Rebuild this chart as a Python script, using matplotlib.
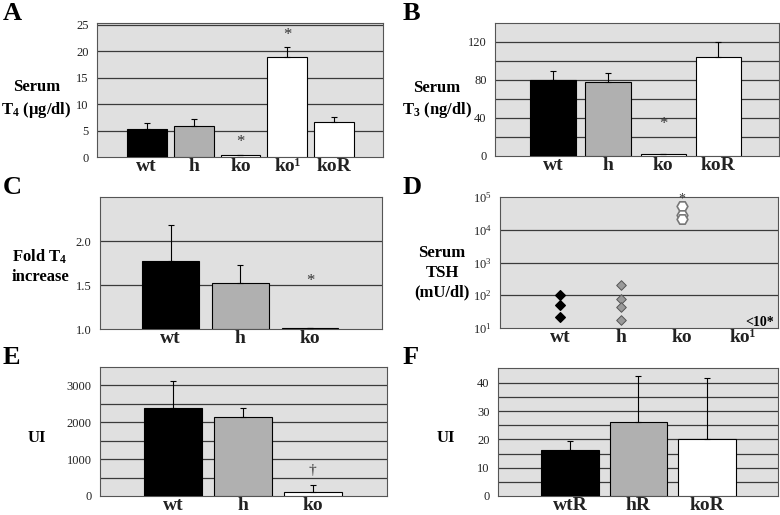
import matplotlib
matplotlib.use('Agg')
import matplotlib.pyplot as plt
import numpy as np

plt.rcParams['font.family'] = ['Liberation Serif', 'DejaVu Serif']
plt.rcParams['mathtext.fontset'] = 'custom'
plt.rcParams['mathtext.rm'] = 'Liberation Serif'
plt.rcParams['mathtext.bf'] = 'Liberation Serif:bold'
plt.rcParams['mathtext.it'] = 'Liberation Serif:italic'

# panel A: serum T4
a_cats = ['wt', 'h', 'ko', 'ko¹', 'koR']
a_vals = [5.3, 5.8, 0.3, 18.8, 6.7]
a_err = [1.1, 1.3, 0, 2.0, 0.9]
a_cols = ['black', '#b0b0b0', 'white', 'white', 'white']

# panel B: serum T3
b_cats = ['wt', 'h', 'ko', 'koR']
b_vals = [80, 78, 2, 104]
b_err = [9, 9, 0, 16]
b_cols = ['black', '#b0b0b0', 'white', 'white']

# panel C: fold T4 increase
c_cats = ['wt', 'h', 'ko']
c_vals = [1.77, 1.52, 1.01]
c_err = [0.41, 0.21, 0]
c_cols = ['black', '#b0b0b0', 'white']

# panel D: serum TSH (individual animals)
d_cats = ['wt', 'h', 'ko', 'ko¹']
d_wt = [105, 49, 22]
d_h = [200, 76, 43, 17]
d_ko = [53000, 28000, 22000]

# panel E: UI
e_cats = ['wt', 'h', 'ko']
e_vals = [2400, 2140, 120]
e_err = [730, 260, 180]
e_cols = ['black', '#b0b0b0', 'white']

# panel F: UI after rescue
f_cats = ['wtR', 'hR', 'koR']
f_vals = [16.2, 26.3, 20.0]
f_err = [3.3, 16.2, 21.8]
f_cols = ['black', '#b0b0b0', 'white']

W, H = 780, 515
fig = plt.figure(figsize=(W / 100, H / 100), dpi=100)
fig.patch.set_facecolor('white')

face = '#e0e0e0'
gridc = '#3a3a3a'
xfs = 14


def make_ax(x0, y0, x1, y1):
    ax = fig.add_axes([x0 / W, 1 - y1 / H, (x1 - x0) / W, (y1 - y0) / H])
    ax.set_facecolor(face)
    for s in ax.spines.values():
        s.set_color('#555555')
        s.set_linewidth(0.8)
    ax.tick_params(length=0, labelsize=9, colors='#222222', pad=6)
    ax.tick_params(axis='x', pad=0.5)
    return ax


def bars(ax, cats, vals, err, cols, width, bottom=0):
    x = np.arange(len(cats))
    h = np.array(vals) - bottom
    ax.bar(x, h, width=width, bottom=bottom, color=cols, edgecolor='black',
           linewidth=0.8, zorder=3)
    ax.errorbar(x, vals, yerr=[np.zeros(len(err)), err], fmt='none',
                ecolor='black', elinewidth=0.8, capsize=2, capthick=0.8, zorder=4)
    ax.set_xticks(x)
    ax.set_xticklabels(cats, fontsize=xfs, fontweight='bold')


def hgrid(ax, vals):
    for v in vals:
        ax.axhline(v, color=gridc, linewidth=0.9, zorder=1)


def ftext(x, y, s, **kw):
    fig.text(x / W, 1 - y / H, s, **kw)


lab = dict(fontsize=12, fontweight='bold', ha='center', va='center')
let = dict(fontsize=19, fontweight='bold', ha='left', va='center')

# A
ax = make_ax(97, 23, 383, 157)
bars(ax, a_cats, a_vals, a_err, a_cols, 0.85)
ax.set_ylim(0, 25.3)
ax.set_xlim(-1.06, 5.04)
ax.set_yticks([0, 5, 10, 15, 20, 25])
hgrid(ax, [5, 10, 15, 20, 25])
ax.text(2, 2.8, '*', ha='center', va='center', fontsize=12, color='#333333')
ax.text(3, 23.0, '*', ha='center', va='center', fontsize=12, color='#333333')
ftext(37, 87, 'Serum', **lab)
ftext(36, 110, r'T$_\mathbf{4}$ (µg/dl)', **lab)
ftext(3, 13, 'A', **let)

# B
ax = make_ax(495, 23, 779, 156)
bars(ax, b_cats, b_vals, b_err, b_cols, 0.82)
ax.set_ylim(0, 140)
ax.set_xlim(-1.05, 4.1)
ax.set_yticks([0, 40, 80, 120])
hgrid(ax, [20, 40, 60, 80, 100, 120])
ax.text(2, 34, '*', ha='center', va='center', fontsize=12, color='#333333')
ftext(437, 88, 'Serum', **lab)
ftext(437, 110, r'T$_\mathbf{3}$ (ng/dl)', **lab)
ftext(403, 13, 'B', **let)

# C
ax = make_ax(100, 197, 382, 329)
bars(ax, c_cats, c_vals, c_err, c_cols, 0.81, bottom=1.0)
ax.set_ylim(1.0, 2.5)
ax.set_xlim(-1.01, 3.03)
ax.set_yticks([1.0, 1.5, 2.0])
ax.set_yticklabels(['1.0', '1.5', '2.0'])
hgrid(ax, [1.5, 2.0])
ax.text(2, 1.55, '*', ha='center', va='center', fontsize=12, color='#333333')
ftext(40, 257, r'Fold T$_\mathbf{4}$', **lab)
ftext(40, 277, 'increase', **lab)
ftext(3, 188, 'C', **let)

# D
ax = make_ax(500, 197, 778, 328)
ax.set_yscale('log')
ax.set_ylim(10, 1e5)
ax.set_xlim(-0.98, 3.57)
hgrid(ax, [1e2, 1e3, 1e4])
ax.scatter([0] * len(d_wt), d_wt, marker='D', s=24, color='black', zorder=3)
ax.scatter([1] * len(d_h), d_h, marker='D', s=24, color='#9a9a9a',
           edgecolor='#555555', linewidth=0.7, zorder=3)
ax.scatter([2] * len(d_ko), d_ko, marker='H', s=60, color='white',
           edgecolor='#777777', linewidth=1.2, zorder=3)
ax.text(2, 88000, '*', ha='center', va='center', fontsize=10, color='#333333')
ax.text(3.5, 15, '<10*', ha='right', va='center', fontsize=10, fontweight='bold')
ax.set_xticks(range(len(d_cats)))
ax.set_xticklabels(d_cats, fontsize=xfs, fontweight='bold')
ax.yaxis.set_minor_locator(plt.NullLocator())
ftext(442, 253, 'Serum', **lab)
ftext(442, 273, 'TSH', **lab)
ftext(442, 292, '(mU/dl)', **lab)
ftext(403, 188, 'D', **let)

# E
ax = make_ax(100, 367, 387, 496)
bars(ax, e_cats, e_vals, e_err, e_cols, 0.83)
ax.set_ylim(0, 3500)
ax.set_xlim(-1.04, 3.06)
ax.set_yticks([0, 1000, 2000, 3000])
hgrid(ax, [500, 1000, 1500, 2000, 2500, 3000])
ax.text(2, 700, '†', ha='center', va='center', fontsize=11, color='#333333')
ftext(37, 438, 'UI', **lab)
ftext(3, 358, 'E', **let)

# F
ax = make_ax(498, 368, 778, 496)
bars(ax, f_cats, f_vals, f_err, f_cols, 0.84)
ax.set_ylim(0, 45.2)
ax.set_xlim(-1.05, 3.04)
ax.set_yticks([0, 10, 20, 30, 40])
hgrid(ax, [5, 10, 15, 20, 25, 30, 35, 40])
ftext(446, 438, 'UI', **lab)
ftext(403, 358, 'F', **let)

fig.savefig('out.png', dpi=100)
